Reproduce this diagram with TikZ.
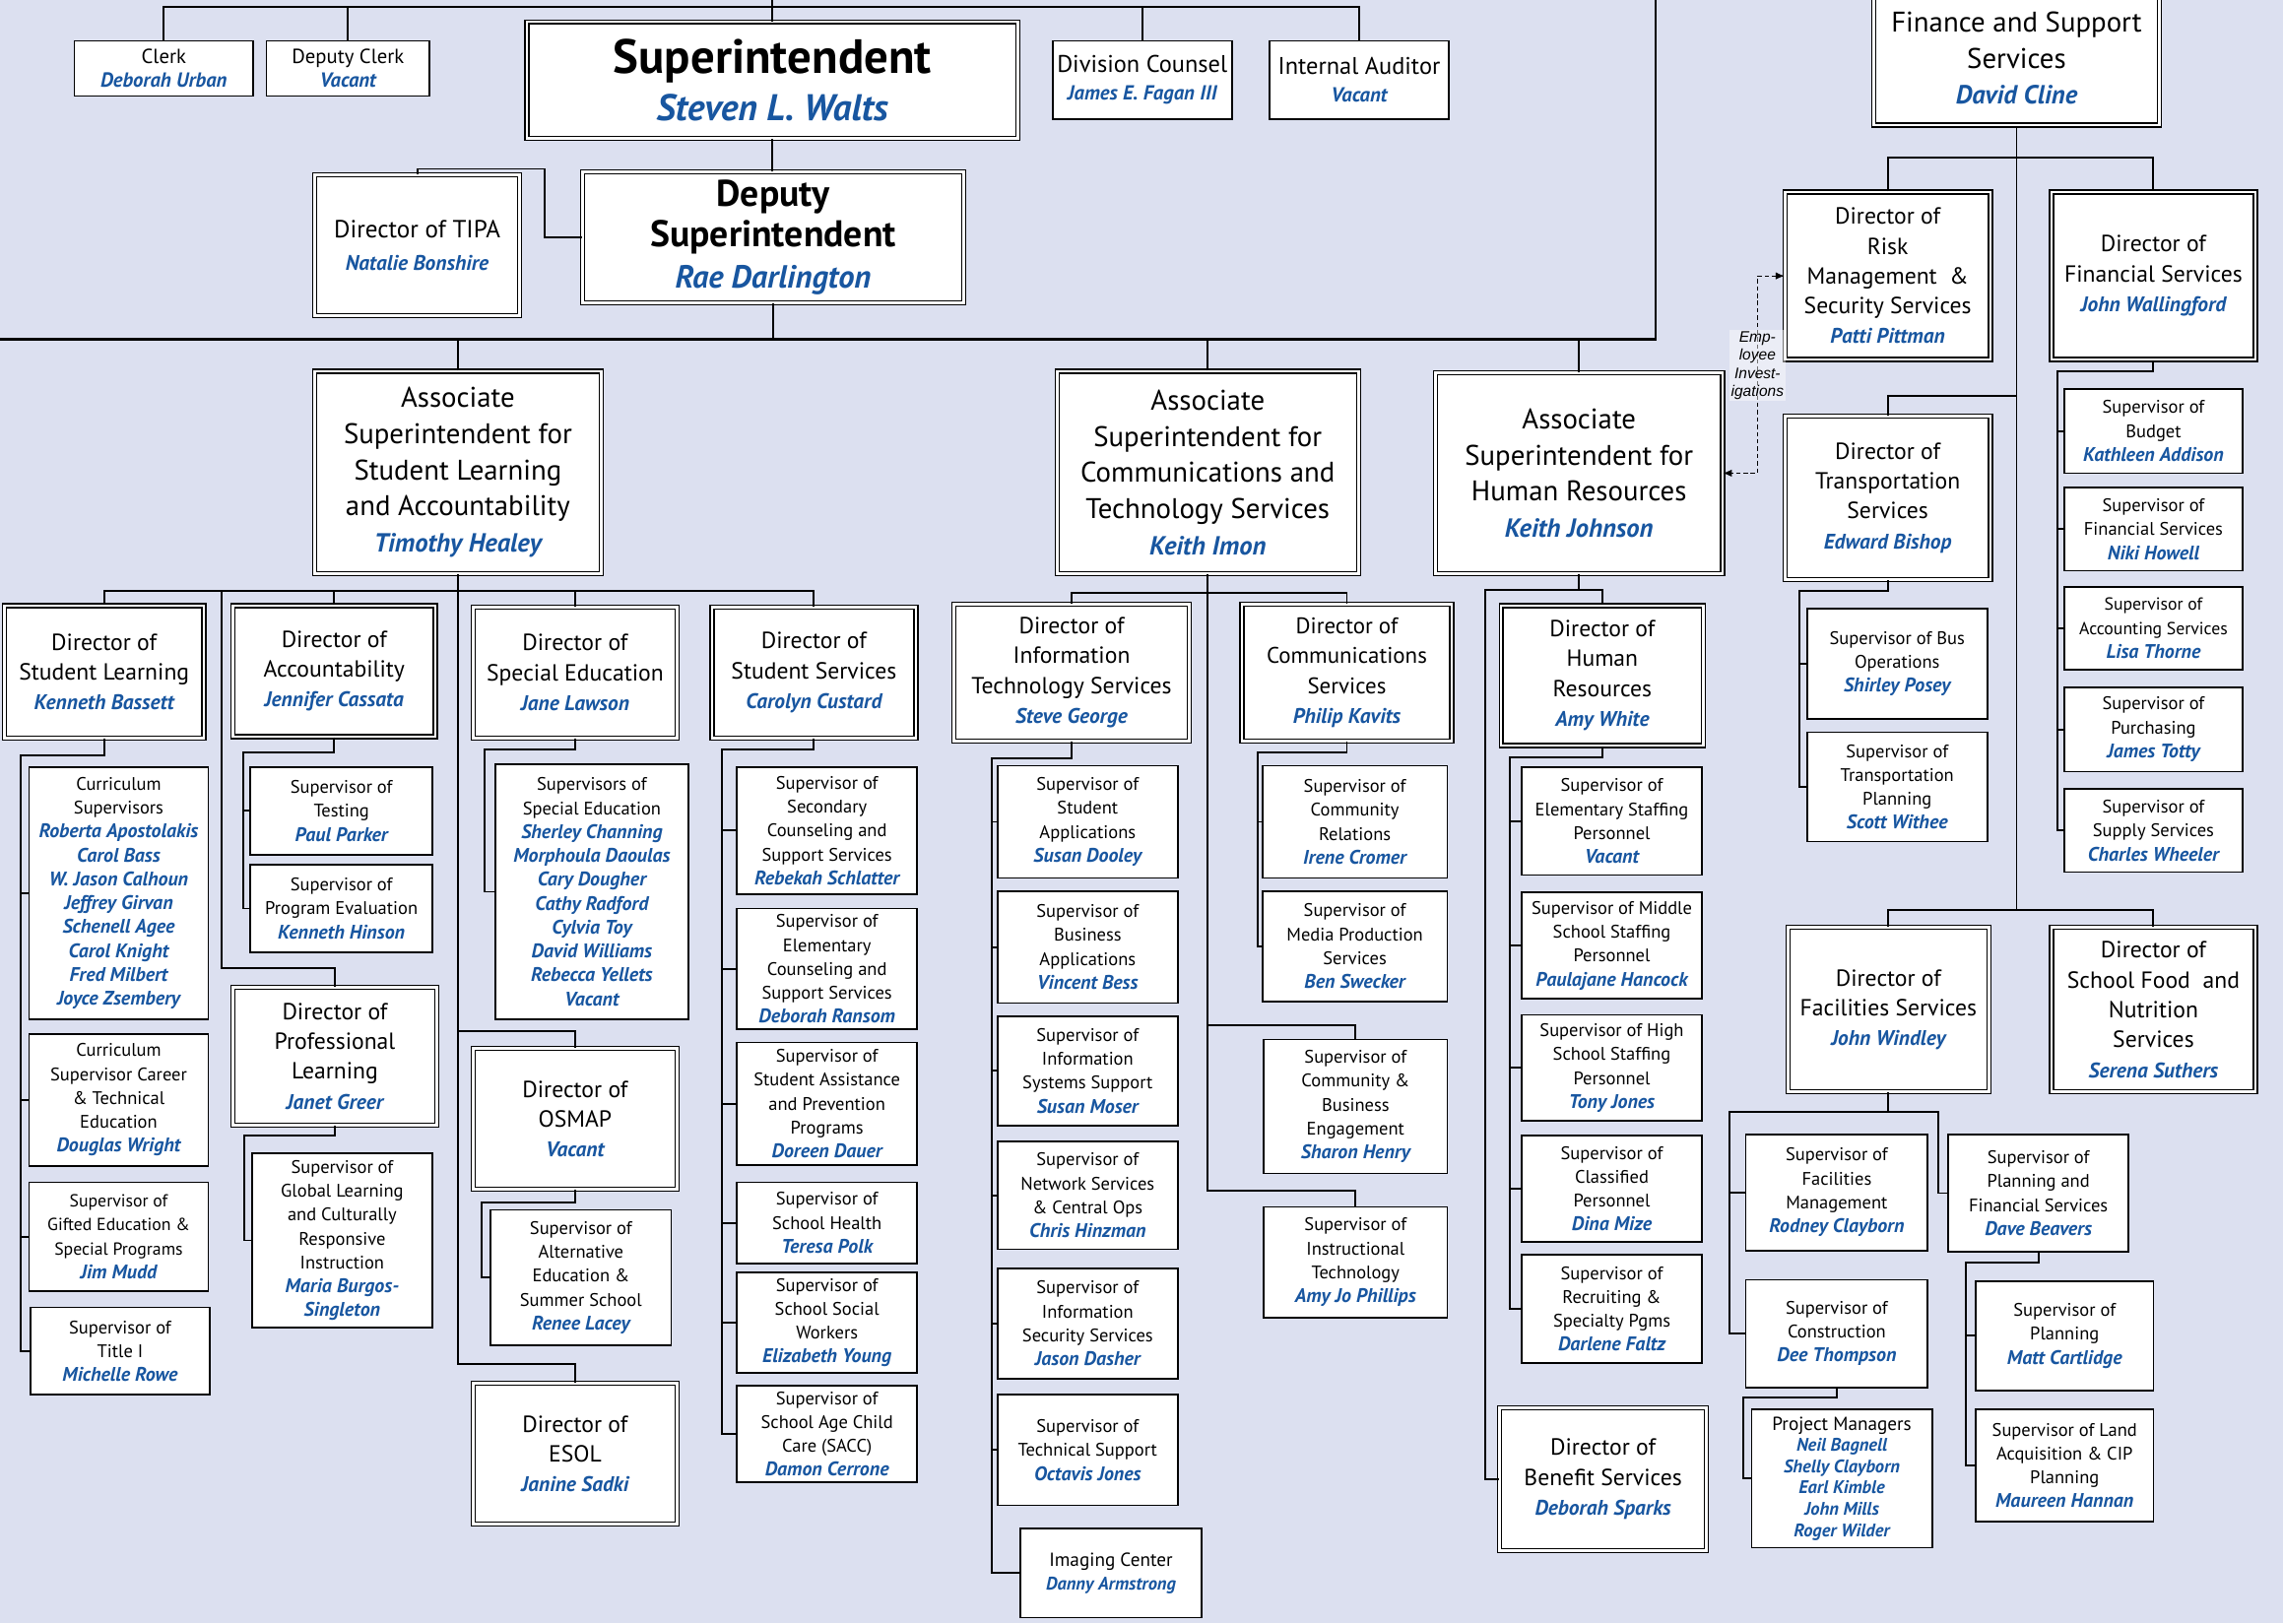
\documentclass[tikz,border=0pt]{standalone}
\usepackage{fontspec}
\setmainfont{PT Sans}
\newfontfamily\arialfont{Liberation Sans}
\usetikzlibrary{arrows.meta}
\definecolor{bgcol}{RGB}{220,224,240}
\definecolor{nameblue}{RGB}{24,86,160}
\newcommand\nm[1]{{\color{nameblue}\bfseries\itshape #1}}
\newcommand\sn[1]{{\fontsize{13.5}{16.4}\selectfont\nm{#1}}}
\newcommand\dn[1]{{\fontsize{14.5}{20.5}\selectfont\nm{#1}}}
\newcommand\an[1]{{\fontsize{18}{24.8}\selectfont\nm{#1}}}

\begin{document}
\begin{tikzpicture}[x=1pt,y=-1pt,
  wh/.style 2 args={minimum width=#1,minimum height=#2},
  box/.style={draw,fill=white,line width=1.2pt,align=center,inner sep=1pt},
  sup/.style={box,font=\fontsize{12.5}{16.4}\selectfont},
  dir/.style={box,double,line width=0.9pt,double distance=1.8pt,font=\fontsize{16}{20.5}\selectfont},
  assoc/.style={dir,font=\fontsize{19.5}{24.8}\selectfont},
  conn/.style={line width=1.3pt},
  bus/.style={line width=1.8pt}]
  \useasboundingbox (0,0) rectangle (1568,1115);
  \fill[bgcol] (0,0) rectangle (1568,1115);

  % top row
  \node[sup,wh={123}{38},font=\fontsize{14}{16}\selectfont] (clerk) at (112.5,47) {Clerk\\\nm{Deborah Urban}};
  \node[sup,wh={112}{38},font=\fontsize{14}{16}\selectfont] (dclerk) at (239,47) {Deputy Clerk\\\nm{Vacant}};
  \node[dir,wh={337}{80},font=\fontsize{25.5}{32}\selectfont] (supt) at (530.5,55)
    {{\fontsize{33}{32}\selectfont\bfseries Superintendent}\\\nm{Steven L. Walts}};
  \node[sup,wh={123}{54},font=\fontsize{16.5}{19}\selectfont] (dcoun) at (784.5,55)
    {Division Counsel\\{\fontsize{14}{19}\selectfont\nm{James E. Fagan III}}};
  \node[sup,wh={123}{54},font=\fontsize{16.5}{19}\selectfont] (aud) at (933.5,55)
    {Internal Auditor\\{\fontsize{14}{19}\selectfont\nm{Vacant}}};
  \node[dir,wh={141}{97},font=\fontsize{17}{22}\selectfont] (tipa) at (286.5,168.5)
    {Director of TIPA\\{\fontsize{14.5}{22}\selectfont\nm{Natalie Bonshire}}};
  \node[dir,wh={262}{90},font=\fontsize{25.5}{28}\selectfont] (dep) at (531,163)
    {\textbf{Deputy}\\\textbf{Superintendent}\\{\fontsize{22}{28}\selectfont\nm{Rae Darlington}}};

  % associates
  \node[assoc,wh={197}{139}] (asla) at (314.5,324.5)
    {Associate\\Superintendent for\\Student Learning\\and Accountability\\\an{Timothy Healey}};
  \node[assoc,wh={207}{139}] (act) at (829.5,324.5)
    {Associate\\Superintendent for\\Communications and\\Technology Services\\\an{Keith Imon}};
  \node[assoc,wh={197}{138}] (ahr) at (1084.5,325)
    {Associate\\Superintendent for\\Human Resources\\\an{Keith Johnson}};
  \node[assoc,wh={196}{92}] (fin) at (1385,40)
    {Finance and Support\\Services\\\an{David Cline}};

  % finance and support
  \node[dir,wh={141}{115}] (drm) at (1296.5,189.5)
    {Director of\\Risk\\Management \ \&\\Security Services\\\dn{Patti Pittman}};
  \node[dir,wh={140}{115}] (dfs) at (1479,189.5)
    {Director of\\Financial Services\\\dn{John Wallingford}};
  \node[dir,wh={141}{112}] (dtr) at (1296.5,342)
    {Director of\\Transportation\\Services\\\dn{Edward Bishop}};
  \node[dir,wh={138}{113}] (dfac) at (1297,693.5)
    {Director of\\Facilities Services\\\dn{John Windley}};
  \node[dir,wh={140}{113}] (dfood) at (1479,693.5)
    {Director of\\School Food \ and\\Nutrition\\Services\\\dn{Serena Suthers}};

  \node[sup,wh={122}{58}] (sbud) at (1479,296) {Supervisor of\\Budget\\\sn{Kathleen Addison}};
  \node[sup,wh={122}{57}] (sfin) at (1479,363.5) {Supervisor of\\Financial Services\\\sn{Niki Howell}};
  \node[sup,wh={122}{57},font=\fontsize{12}{16.4}\selectfont] (sacc) at (1479,431.5) {Supervisor of\\Accounting Services\\\sn{Lisa Thorne}};
  \node[sup,wh={122}{58}] (spur) at (1479,501) {Supervisor of\\Purchasing\\\sn{James Totty}};
  \node[sup,wh={122}{57}] (ssup) at (1479,570.5) {Supervisor of\\Supply Services\\\sn{Charles Wheeler}};

  \node[sup,wh={124}{76}] (sbus) at (1303,456) {Supervisor of Bus\\Operations\\\sn{Shirley Posey}};
  \node[sup,wh={124}{75}] (stp) at (1303,540.5) {Supervisor of\\Transportation\\Planning\\\sn{Scott Withee}};

  \node[sup,wh={125}{80}] (sfm) at (1261.5,819) {Supervisor of\\Facilities\\Management\\\sn{Rodney Clayborn}};
  \node[sup,wh={125}{74}] (scon) at (1261.5,916) {Supervisor of\\Construction\\\sn{Dee Thompson}};
  \node[sup,wh={124}{95},font=\fontsize{13}{14.6}\selectfont] (pm) at (1265,1015.5)
    {Project Managers\\{\fontsize{12.5}{14.6}\selectfont\nm{Neil Bagnell}}\\{\fontsize{12.5}{14.6}\selectfont\nm{Shelly Clayborn}}\\{\fontsize{12.5}{14.6}\selectfont\nm{Earl Kimble}}\\{\fontsize{12.5}{14.6}\selectfont\nm{John Mills}}\\{\fontsize{12.5}{14.6}\selectfont\nm{Roger Wilder}}};
  \node[sup,wh={124}{81}] (spf) at (1400,819.5) {Supervisor of\\Planning and\\Financial Services\\\sn{Dave Beavers}};
  \node[sup,wh={122}{75}] (spl) at (1418,917.5) {Supervisor of\\Planning\\\sn{Matt Cartlidge}};
  \node[sup,wh={122}{77}] (sland) at (1418,1006.5) {Supervisor of Land\\Acquisition \& CIP\\Planning\\\sn{Maureen Hannan}};

  % student learning and accountability
  \node[dir,wh={137}{91}] (dsl) at (71.5,461.5) {Director of\\Student Learning\\\dn{Kenneth Bassett}};
  \node[dir,wh={139}{90}] (dac) at (229.5,461) {Director of\\Accountability\\\dn{Jennifer Cassata}};
  \node[dir,wh={140}{90}] (dse) at (395,462) {Director of\\Special Education\\\dn{Jane Lawson}};
  \node[dir,wh={140}{90}] (dss) at (559,462) {Director of\\Student Services\\\dn{Carolyn Custard}};
  \node[dir,wh={140}{95}] (dpl) at (230,725.5) {Director of\\Professional\\Learning\\\dn{Janet Greer}};
  \node[dir,wh={140}{97}] (dosm) at (395,768.5) {Director of\\OSMAP\\\dn{Vacant}};
  \node[dir,wh={140}{97}] (desol) at (395,998.5) {Director of\\ESOL\\\dn{Janine Sadki}};

  \node[sup,wh={123}{173}] (cur) at (81.5,613.5)
    {Curriculum\\Supervisors\\\sn{Roberta Apostolakis}\\\sn{Carol Bass}\\\sn{W. Jason Calhoun}\\\sn{Jeffrey Girvan}\\\sn{Schenell Agee}\\\sn{Carol Knight}\\\sn{Fred Milbert}\\\sn{Joyce Zsembery}};
  \node[sup,wh={123}{91}] (cte) at (81.5,755.5) {Curriculum\\Supervisor Career\\\& Technical\\Education\\\sn{Douglas Wright}};
  \node[sup,wh={123}{75},font=\fontsize{12}{16.4}\selectfont] (gft) at (81.5,849.5) {Supervisor of\\Gifted Education \&\\Special Programs\\\sn{Jim Mudd}};
  \node[sup,wh={123}{60}] (ttl) at (82.5,928) {Supervisor of\\Title I\\\sn{Michelle Rowe}};

  \node[sup,wh={125}{60}] (tst) at (234.5,557) {Supervisor of\\Testing\\\sn{Paul Parker}};
  \node[sup,wh={125}{60}] (pev) at (234.5,624) {Supervisor of\\Program Evaluation\\\sn{Kenneth Hinson}};
  \node[sup,wh={124}{120}] (gci) at (235,852)
    {Supervisor of\\Global Learning\\and Culturally\\Responsive\\Instruction\\\sn{Maria Burgos-}\\\sn{Singleton}};
  \node[sup,wh={133}{175}] (sse) at (406.5,612.5)
    {Supervisors of\\Special Education\\\sn{Sherley Channing}\\\sn{Morphoula Daoulas}\\\sn{Cary Dougher}\\\sn{Cathy Radford}\\\sn{Cylvia Toy}\\\sn{David Williams}\\\sn{Rebecca Yellets}\\\sn{Vacant}};
  \node[sup,wh={124}{93}] (alt) at (399,877.5) {Supervisor of\\Alternative\\Education \&\\Summer School\\\sn{Renee Lacey}};

  \node[sup,wh={124}{87}] (sec) at (568,570.5)
    {Supervisor of\\Secondary\\Counseling and\\Support Services\\\sn{Rebekah Schlatter}};
  \node[sup,wh={124}{83}] (ele) at (568,665.5)
    {Supervisor of\\Elementary\\Counseling and\\Support Services\\\sn{Deborah Ransom}};
  \node[sup,wh={124}{84}] (sap) at (568,758)
    {Supervisor of\\Student Assistance\\and Prevention\\Programs\\\sn{Doreen Dauer}};
  \node[sup,wh={124}{56}] (shl) at (568,840) {Supervisor of\\School Health\\\sn{Teresa Polk}};
  \node[sup,wh={124}{69}] (ssw) at (568,908.5) {Supervisor of\\School Social\\Workers\\\sn{Elizabeth Young}};
  \node[sup,wh={124}{66}] (sac) at (568,985) {Supervisor of\\School Age Child\\Care (SACC)\\\sn{Damon Cerrone}};

  % communications and technology
  \node[dir,wh={162}{94}] (dit) at (736,462) {Director of\\Information\\Technology Services\\\dn{Steve George}};
  \node[dir,wh={144}{94},font=\fontsize{15.5}{20.5}\selectfont] (dcm) at (925,462) {Director of\\Communications\\Services\\\dn{Philip Kavits}};

  \node[sup,wh={124}{77}] (sapp) at (747,564.5) {Supervisor of\\Student\\Applications\\\sn{Susan Dooley}};
  \node[sup,wh={124}{77}] (bapp) at (747,650.5) {Supervisor of\\Business\\Applications\\\sn{Vincent Bess}};
  \node[sup,wh={124}{75}] (iss) at (747,735.5) {Supervisor of\\Information\\Systems Support\\\sn{Susan Moser}};
  \node[sup,wh={124}{74}] (net) at (747,821) {Supervisor of\\Network Services\\\& Central Ops\\\sn{Chris Hinzman}};
  \node[sup,wh={124}{76}] (isec) at (747,909) {Supervisor of\\Information\\Security Services\\\sn{Jason Dasher}};
  \node[sup,wh={124}{76}] (tsp) at (747,996) {Supervisor of\\Technical Support\\\sn{Octavis Jones}};
  \node[sup,wh={124}{61},font=\fontsize{13}{16.4}\selectfont] (img) at (763,1080.5) {Imaging Center\\{\fontsize{12.5}{16.4}\selectfont\nm{Danny Armstrong}}};

  \node[sup,wh={127}{77}] (ccr) at (930.5,564.5) {Supervisor of\\Community\\Relations\\\sn{Irene Cromer}};
  \node[sup,wh={127}{76}] (mps) at (930.5,650) {Supervisor of\\Media Production\\Services\\\sn{Ben Swecker}};
  \node[sup,wh={126}{92}] (cbe) at (931,760) {Supervisor of\\Community \&\\Business\\Engagement\\\sn{Sharon Henry}};
  \node[sup,wh={126}{76}] (sit) at (931,867) {Supervisor of\\Instructional\\Technology\\\sn{Amy Jo Phillips}};

  % human resources
  \node[dir,wh={139}{96}] (dhr) at (1100.5,464) {Director of\\Human\\Resources\\\dn{Amy White}};
  \node[dir,wh={142}{98}] (dben) at (1101,1016) {Director of\\Benefit Services\\\dn{Deborah Sparks}};
  \node[sup,wh={124}{74}] (sel) at (1107,564) {Supervisor of\\Elementary Staffing\\Personnel\\\sn{Vacant}};
  \node[sup,wh={124}{73}] (smi) at (1107,649.5) {Supervisor of Middle\\School Staffing\\Personnel\\\sn{Paulajane Hancock}};
  \node[sup,wh={124}{73}] (shi) at (1107,733.5) {Supervisor of High\\School Staffing\\Personnel\\\sn{Tony Jones}};
  \node[sup,wh={124}{73}] (scl) at (1107,816.5) {Supervisor of\\Classified\\Personnel\\\sn{Dina Mize}};
  \node[sup,wh={124}{74}] (srec) at (1107,899) {Supervisor of\\Recruiting \&\\Specialty Pgms\\\sn{Darlene Faltz}};

  % junctions
  \coordinate (topbus) at (530.5,5);
  \coordinate (topend) at (530.5,0);
  \coordinate (rtop) at (1137,0);
  \coordinate (lbus) at (0,233);
  \coordinate (tipaj) at (374,116);
  \coordinate (slabus) at (314.5,406);
  \coordinate (plj) at (152,665);
  \coordinate (osj) at (314.5,708);
  \coordinate (esj) at (314.5,937);
  \coordinate (ctbus) at (829.5,407);
  \coordinate (cbj) at (829.5,704);
  \coordinate (itj) at (829.5,818);
  \coordinate (hrj) at (1020,405);
  \coordinate (finj) at (1385,108);
  \coordinate (trj) at (1385,272);
  \coordinate (facj) at (1385,625);
  \coordinate (facl) at (1188,764);
  \coordinate (facr) at (1331,764);
  \coordinate (slbr) at (14,519);
  \coordinate (acbr) at (167,517);
  \coordinate (plbr) at (168,780);
  \coordinate (sebr) at (333,515);
  \coordinate (osbr) at (331,826);
  \coordinate (ssbr) at (496,515);
  \coordinate (itbr) at (681,521);
  \coordinate (cmbr) at (864,517);
  \coordinate (hrbr) at (1037,520);
  \coordinate (fsbr) at (1413,255);
  \coordinate (trbr) at (1236,406);
  \coordinate (conbr) at (1197,960);
  \coordinate (pfbr) at (1350,867);
  \coordinate (invc) at (1207,251);

  \draw[conn] (clerk.north) |- (topbus) -| (aud.north);
  \draw[conn] (dclerk.north) -- (dclerk.north |- topbus);
  \draw[conn] (dcoun.north) -- (dcoun.north |- topbus);
  \draw[conn] (supt.north) -- (topend);
  \draw[conn] (supt.south) -- (supt.south |- dep.north);
  \draw[conn] (tipa.north) |- (tipaj) |- (dep.west);
  \draw[bus] (rtop) |- (lbus);
  \draw[conn] (dep.south) -- (dep.south |- lbus);
  \draw[conn] (asla.north) -- (asla.north |- lbus);
  \draw[conn] (act.north) -- (act.north |- lbus);
  \draw[conn] (ahr.north) -- (ahr.north |- lbus);

  \draw[conn] (dsl.north) |- (slabus) -| (dss.north);
  \draw[conn] (dac.north) -- (dac.north |- slabus);
  \draw[conn] (dse.north) -- (dse.north |- slabus);
  \draw[conn] (dpl.north) |- (plj) -- (plj |- slabus);
  \draw[conn] (asla.south) -- (esj) -| (desol.north);
  \draw[conn] (osj) -| (dosm.north);

  \draw[conn] (dsl.south) |- (slbr) |- (ttl.west);
  \foreach \bx in {cur,cte,gft} \draw[conn] (slbr) |- (\bx.west);
  \draw[conn] (dac.south) |- (acbr) |- (pev.west);
  \draw[conn] (acbr) |- (tst.west);
  \draw[conn] (dpl.south) |- (plbr) |- (gci.west);
  \draw[conn] (dse.south) |- (sebr) |- (sse.west);
  \draw[conn] (dosm.south) |- (osbr) |- (alt.west);
  \draw[conn] (dss.south) |- (ssbr) |- (sac.west);
  \foreach \bx in {sec,ele,sap,shl,ssw} \draw[conn] (ssbr) |- (\bx.west);

  \draw[conn] (dit.north) |- (ctbus) -| (dcm.north);
  \draw[conn] (act.south) -- (itj) -| (sit.north);
  \draw[conn] (cbj) -| (cbe.north);
  \draw[conn] (dit.south) |- (itbr) |- (img.west);
  \foreach \bx in {sapp,bapp,iss,net,isec,tsp} \draw[conn] (itbr) |- (\bx.west);
  \draw[conn] (dcm.south) |- (cmbr) |- (mps.west);
  \draw[conn] (cmbr) |- (ccr.west);

  \draw[conn] (ahr.south) -- (ahr.south |- hrj);
  \draw[conn] (dhr.north) |- (hrj) |- (dben.west);
  \draw[conn] (dhr.south) |- (hrbr) |- (srec.west);
  \foreach \bx in {sel,smi,shi,scl} \draw[conn] (hrbr) |- (\bx.west);

  \draw[conn] (fin.south) -- (facj);
  \draw[conn] (drm.north) |- (finj) -| (dfs.north);
  \draw[conn] (dtr.north) |- (trj);
  \draw[conn] (dfac.north) |- (facj) -| (dfood.north);
  \draw[conn] (dfs.south) |- (fsbr) |- (ssup.west);
  \foreach \bx in {sbud,sfin,sacc,spur} \draw[conn] (fsbr) |- (\bx.west);
  \draw[conn] (dtr.south) |- (trbr) |- (stp.west);
  \draw[conn] (trbr) |- (sbus.west);
  \draw[conn] (dfac.south) -- (dfac.south |- facl);
  \draw[conn] (scon.west) -| (facl) -- (facr) |- (spf.west);
  \draw[conn] (facl) |- (sfm.west);
  \draw[conn] (scon.south) |- (conbr) |- (pm.west);
  \draw[conn] (spf.south) |- (pfbr) |- (sland.west);
  \draw[conn] (pfbr) |- (spl.west);

  \draw[line width=0.6pt,dash pattern=on 3pt off 2pt,{Latex[length=6pt,width=5pt]}-{Latex[length=6pt,width=5pt]}]
    (drm.west) -| (invc) |- (ahr.east);
  \node[font=\arialfont\itshape\fontsize{10.5}{12.5}\selectfont,fill=white,fill opacity=0.45,text opacity=1,
    align=center,inner sep=1pt] (inv) at (invc) {Emp-\\loyee\\Invest-\\igations};
\end{tikzpicture}
\end{document}
